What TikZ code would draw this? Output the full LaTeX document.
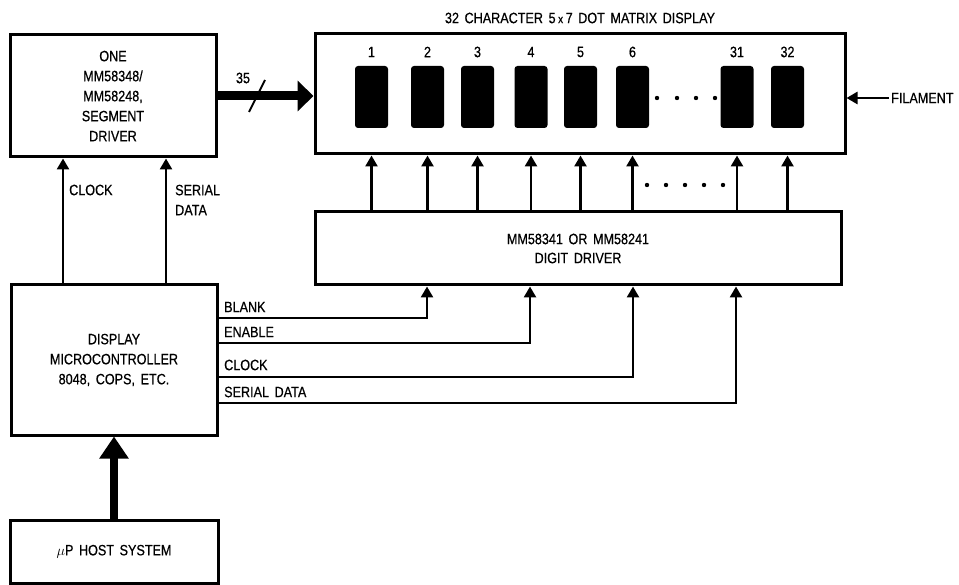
\documentclass[tikz,border=0pt]{standalone}
\usepackage{fontspec}
\setmainfont[FakeStretch=0.84,WordSpace=1.6,FakeBold=0.6]{Liberation Sans}
\usetikzlibrary{arrows.meta,calc}
\newcommand{\diagfont}{\fontsize{15}{20}\selectfont}
\begin{document}
\begin{tikzpicture}[x=1pt,y=-1pt,
  box/.style={draw,line width=3pt,inner sep=0pt,align=center,font=\diagfont},
  blk/.style={fill=black,draw=none,rounded corners=3pt,minimum width=33pt,minimum height=62pt,inner sep=0pt},
  lbl/.style={font=\diagfont,inner sep=2pt},
  conn/.style={line width=2.6pt,-{Triangle[width=12pt,length=11pt]}},
  bus/.style={line width=9pt,-{Triangle[width=30pt,length=16pt]}},
  dotmark/.style={fill=black}]
\useasboundingbox (0,0) rectangle (959,585);
% boxes
\node[box,minimum width=206pt,minimum height=122pt] (seg) at (113,96)
  {ONE\\MM58348/\\MM58248,\\SEGMENT\\DRIVER};
\node[box,minimum width=530pt,minimum height=120pt] (disp) at (580,94) {};
\node[box,minimum width=526pt,minimum height=73pt] (drv) at (578,248.5)
  {MM58341 OR MM58241\\[-1pt]DIGIT DRIVER};
\node[box,minimum width=206pt,minimum height=150pt] (mcu) at (114,360)
  {DISPLAY\\MICROCONTROLLER\\8048, COPS, ETC.};
\node[box,minimum width=208pt,minimum height=63pt] (host) at (114,551.5)
  {$\mu$P HOST SYSTEM};
% title
\node[lbl] (title) at (580,18) {32 CHARACTER 5\,{\fontsize{12}{14}\selectfont x}\,7 DOT MATRIX DISPLAY};
% character blocks and numbers
\foreach \i/\x in {1/371.5,2/427.5,3/477.5,4/531,5/580.5,6/632.5,31/737,32/787.5}{
  \node[blk] (b\i) at (\x,97) {};
  \node[lbl] (n\i) at (\x,52) {\i};
  \draw[conn] (b\i |- drv.north) -- (b\i |- disp.south);
}
% dots
\foreach \x in {657,677,696,715}{\fill[dotmark] (\x,98) circle (2.2pt);}
\foreach \x in {647,666,685,704,723}{\fill[dotmark] (\x,185) circle (2.2pt);}
% filament
\node[lbl,anchor=west] (fil) at (889,98) {FILAMENT};
\draw[conn] (fil.west) -- (fil.west -| disp.east);
% bus from segment driver
\draw[bus] (seg.east) -- (seg.east -| disp.west);
\draw[line width=1.8pt] (249,112) -- (265,80);
\node[lbl] (n35) at (243,78) {35};
% mcu to segment driver
\coordinate (sc) at (63,0);
\coordinate (sd) at (166,0);
\draw[conn] (sc |- mcu.north) -- (sc |- seg.south);
\draw[conn] (sd |- mcu.north) -- (sd |- seg.south);
\node[lbl,anchor=west] (lclk) at (67,190) {CLOCK};
\node[lbl,anchor=west,align=left] (lsd) at (173,200) {SERIAL\\DATA};
% mcu to digit driver
\coordinate (ib) at (427,318);
\coordinate (ie) at (530,343);
\coordinate (ic) at (633,377);
\coordinate (is) at (736,403);
\draw[conn] (mcu.east |- ib) -| (drv.south -| ib);
\draw[conn] (mcu.east |- ie) -| (drv.south -| ie);
\draw[conn] (mcu.east |- ic) -| (drv.south -| ic);
\draw[conn] (mcu.east |- is) -| (drv.south -| is);
\node[lbl,anchor=west] (lb) at (222,307) {BLANK};
\node[lbl,anchor=west] (le) at (222,332) {ENABLE};
\node[lbl,anchor=west] (lc) at (222,365) {CLOCK};
\node[lbl,anchor=west] (ls) at (222,392) {SERIAL DATA};
% host to mcu
\draw[line width=8pt,-{Triangle[width=28pt,length=22pt]}] (host.north) -- (mcu.south);
\end{tikzpicture}
\end{document}
